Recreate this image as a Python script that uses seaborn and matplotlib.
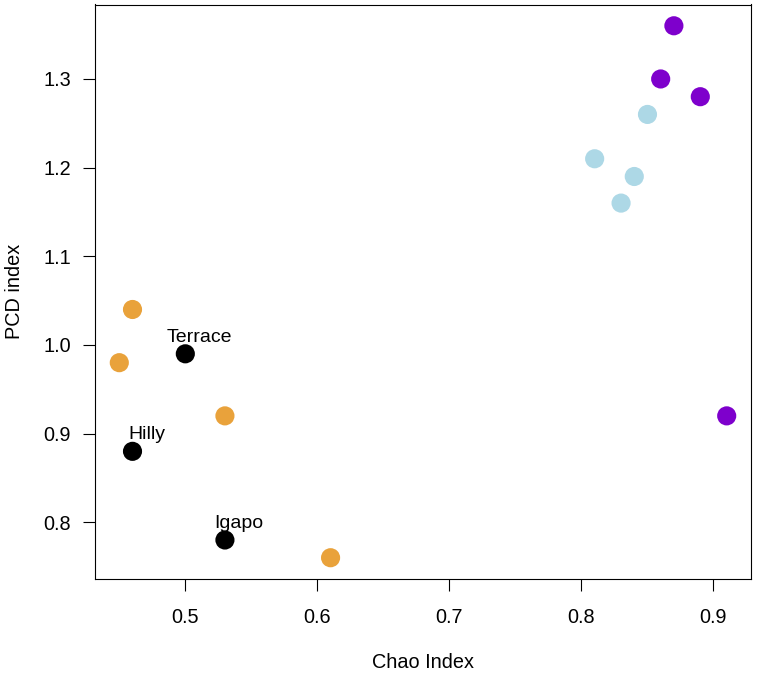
import pandas as pd
import matplotlib
matplotlib.use('Agg')
import matplotlib.pyplot as plt
import seaborn as sns

# values
chao = [0.46, 0.45, 0.53, 0.61,
        0.81, 0.83, 0.84, 0.85,
        0.86, 0.87, 0.89, 0.91,
        0.50, 0.46, 0.53]
pcd = [1.04, 0.98, 0.92, 0.76,
       1.21, 1.16, 1.19, 1.26,
       1.30, 1.36, 1.28, 0.92,
       0.99, 0.88, 0.78]
group = ['a'] * 4 + ['b'] * 4 + ['c'] * 4 + ['site'] * 3
site_names = ['Terrace', 'Hilly', 'Igapo']
site_chao = [0.50, 0.46, 0.53]
site_pcd = [0.99, 0.88, 0.78]

colors = {'a': '#E9A23B', 'b': '#ADD8E6', 'c': '#7E00CC', 'site': '#000000'}

df = pd.DataFrame({'chao': chao, 'pcd': pcd, 'group': group})

sns.set_style('white')
plt.rcParams['font.family'] = ['Liberation Sans', 'DejaVu Sans']
plt.rcParams['text.color'] = 'black'
plt.rcParams['axes.labelcolor'] = 'black'
plt.rcParams['xtick.color'] = 'black'
plt.rcParams['ytick.color'] = 'black'

fig = plt.figure(figsize=(7.57, 6.75), dpi=100)
ax = fig.add_axes([95 / 757, 1 - 579 / 675, 656 / 757, 574.5 / 675])

sns.scatterplot(x='chao', y='pcd', hue='group', data=df, palette=colors,
                s=190, edgecolor='none', legend=False, ax=ax)

for name, x, y in zip(site_names, site_chao, site_pcd):
    ax.annotate(name, (x, y), xytext=(10, 8.6), textcoords='offset points',
                ha='center', va='baseline', fontsize=14)

# R style axis ranges (4% padding)
xr = max(chao) - min(chao)
yr = max(pcd) - min(pcd)
ax.set_xlim(min(chao) - 0.04 * xr, max(chao) + 0.04 * xr)
ax.set_ylim(min(pcd) - 0.04 * yr, max(pcd) + 0.04 * yr)

ax.set_xticks([0.5, 0.6, 0.7, 0.8, 0.9])
ax.set_yticks([0.8, 0.9, 1.0, 1.1, 1.2, 1.3])
ax.set_yticklabels(['0.8', '0.9', '1.0', '1.1', '1.2', '1.3'])
ax.tick_params(direction='out', length=8.6, width=0.8,
               labelsize=14.3, bottom=True, left=True)
ax.tick_params(axis='x', pad=12)
ax.tick_params(axis='y', pad=8.6)
for sp in ax.spines.values():
    sp.set_color('black')
    sp.set_linewidth(0.8)

ax.set_xlabel('Chao Index', fontsize=14.3, va='center')
ax.set_ylabel('PCD index', fontsize=14.3, va='center')
ax.xaxis.set_label_coords(0.5, (579 - 662) / 574.5)
ax.yaxis.set_label_coords((15 - 95) / 656, 0.5)

plt.savefig('out.png', dpi=100)
